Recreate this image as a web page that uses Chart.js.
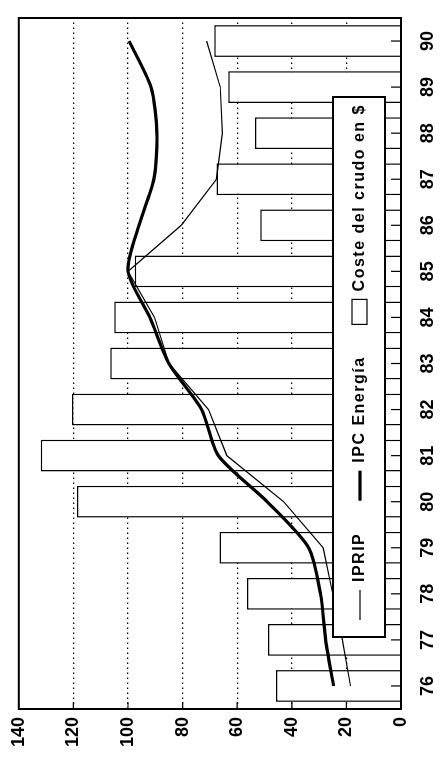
<!DOCTYPE html>
<html>
<head>
<meta charset="utf-8">
<script src="https://cdn.jsdelivr.net/npm/chart.js@4"></script>
<style>
  html, body { margin:0; padding:0; background:#fff; overflow:hidden; }
  #wrap { position:absolute; left:0; top:759px; width:759px; height:448px;
          transform: rotate(-90deg); transform-origin: 0 0; }
</style>
</head>
<body>
<div id="wrap"><canvas id="c" width="759" height="448"></canvas></div>
<script>
const years = ['76','77','78','79','80','81','82','83','84','85','86','87','88','89','90'];
const iprip = [18.5, 21.5, 25, 28.5, 43, 63.8, 70.5, 85, 90.3, 100, 80.5, 67.6, 65.4, 66.2, 71.2];
const ipcEnergia = [24.7, 27.6, 29.5, 33.8, 49, 66.9, 73, 85, 92, 100, 96, 90.5, 89.4, 91.6, 99.6];
const costeCrudo = [45.8, 48.7, 56.4, 66.5, 118.7, 132, 120.5, 106.5, 105, 97.5, 51.6, 67.6, 53.5, 63.3, 68.4];
const valueTicks = [0, 20, 40, 60, 80, 100, 120, 140];

const FONT = '"Liberation Sans", Arial, Helvetica, sans-serif';

const framePlugin = {
  id: 'frame',
  afterDatasetsDraw(chart) {
    const ctx = chart.ctx, a = chart.chartArea;
    const xs = chart.scales.x, ys = chart.scales.y;
    ctx.save();
    ctx.strokeStyle = '#000';
    ctx.lineWidth = 1.2;
    ctx.beginPath();
    xs.ticks.forEach((t, i) => {
      const px = xs.getPixelForTick(i);
      ctx.moveTo(px, a.bottom);
      ctx.lineTo(px, a.bottom - 10);
    });
    valueTicks.forEach(v => {
      if (v === 0 || v === 140) return;
      const py = ys.getPixelForValue(v);
      ctx.moveTo(a.left, py);
      ctx.lineTo(a.left + 7, py);
    });
    ctx.stroke();
    ctx.lineWidth = 2;
    ctx.strokeRect(a.left, a.top, a.right - a.left, a.bottom - a.top);
    ctx.restore();
  }
};

const legendPlugin = {
  id: 'customLegend',
  afterDraw(chart) {
    const ctx = chart.ctx, a = chart.chartArea;
    const left = a.left + 72, w = 540, h = 52;
    const top = a.bottom - 68;
    ctx.save();
    ctx.fillStyle = '#fff';
    ctx.fillRect(left, top, w, h);
    ctx.strokeStyle = '#000';
    ctx.lineWidth = 2;
    ctx.strokeRect(left, top, w, h);
    ctx.font = 'bold 16px ' + FONT;
    ctx.letterSpacing = '1.5px';
    ctx.textBaseline = 'middle';
    ctx.fillStyle = '#000';
    const cy = top + h / 2 + 1;
    const order = [0, 1, 2];
    let x = left + 17;
    order.forEach((di) => {
      const ds = chart.data.datasets[di];
      if (ds.type === 'line') {
        ctx.beginPath();
        ctx.lineWidth = ds.borderWidth;
        ctx.moveTo(x, cy);
        ctx.lineTo(x + 30, cy);
        ctx.stroke();
        x += 30 + 8;
      } else {
        ctx.lineWidth = 1.2;
        ctx.fillStyle = '#fff';
        ctx.fillRect(x, cy - 8, 25, 15);
        ctx.strokeRect(x, cy - 8, 25, 15);
        ctx.fillStyle = '#000';
        x += 25 + 8;
      }
      ctx.fillText(ds.label, x, cy);
      x += ctx.measureText(ds.label).width + 32;
    });
    ctx.restore();
  }
};

new Chart(document.getElementById('c'), {
  data: {
    labels: years,
    datasets: [
      { type: 'line', label: 'IPRIP', data: iprip, borderColor: '#000', borderWidth: 1.2,
        pointRadius: 0, tension: 0, order: 0, fill: false },
      { type: 'line', label: 'IPC Energía', data: ipcEnergia, borderColor: '#000', borderWidth: 3.2,
        pointRadius: 0, tension: 0.25, order: 0, fill: false },
      { type: 'bar', label: 'Coste del crudo en $', data: costeCrudo, backgroundColor: '#fff',
        borderColor: '#000', borderWidth: 1.5, categoryPercentage: 1, barPercentage: 0.69, order: 1 }
    ]
  },
  options: {
    responsive: false,
    animation: false,
    layout: { padding: { left: 0, right: 18, top: 16, bottom: 0 } },
    plugins: { legend: { display: false }, tooltip: { enabled: false } },
    scales: {
      x: {
        type: 'category',
        offset: true,
        grid: { display: false, drawTicks: false },
        border: { display: false },
        ticks: { color: '#000', padding: 16, font: { family: FONT, size: 18, weight: 'bold' }, maxRotation: 0 },
        afterFit(s) { s.height = 47; }
      },
      y: {
        min: 0, max: 140,
        afterBuildTicks(s) { s.ticks = valueTicks.map(v => ({ value: v })); },
        grid: {
          drawTicks: false,
          color: ctx => (ctx.tick && (ctx.tick.value === 0 || ctx.tick.value === 140)) ? 'rgba(0,0,0,0)' : '#000',
          lineWidth: 1.2
        },
        border: { display: false, dash: [1.5, 3.5] },
        ticks: { color: '#000', padding: 8, font: { family: FONT, size: 18, weight: 'bold' } },
        afterFit(s) { s.width = 50; }
      }
    }
  },
  plugins: [framePlugin, legendPlugin]
});
</script>
</body>
</html>
